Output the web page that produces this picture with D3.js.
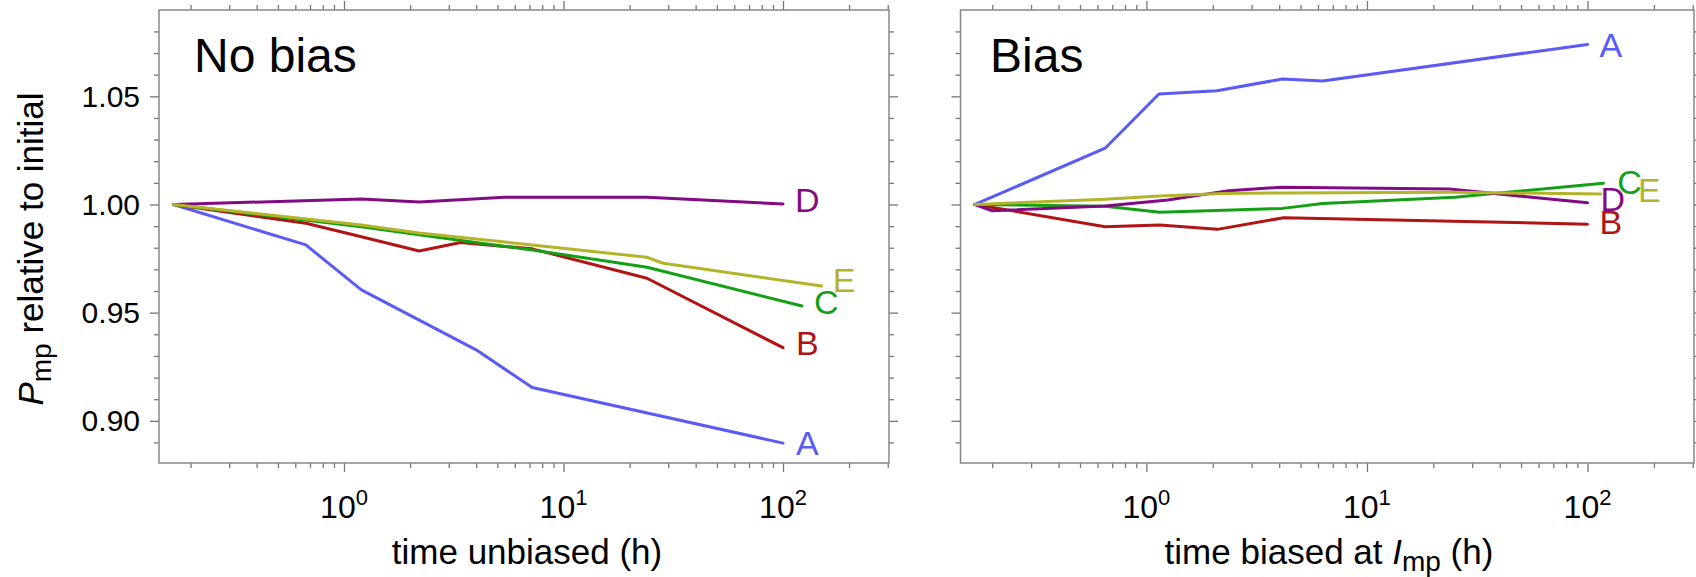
<!DOCTYPE html>
<html>
<head>
<meta charset="utf-8">
<script src="https://cdn.jsdelivr.net/npm/d3@7"></script>
<style>
  body { margin: 0; background: #fff; }
  svg { display: block; font-family: "Liberation Sans", Arial, Helvetica, sans-serif; }
  .frame { fill: none; stroke: #888; stroke-width: 1.5; }
  .tick line { stroke: #777; stroke-width: 1.3; }
  .domain { display: none; }
  .series { fill: none; stroke-width: 3; stroke-linejoin: round; stroke-linecap: round; }
</style>
</head>
<body>
<script>
var seriesNames = ["A", "B", "C", "D", "E"];

// No bias: time unbiased (h) / Pmp relative to initial
var noBiasTimeA = [0.167, 0.67, 1.2, 4.0, 7.2, 100];
var noBiasValA  = [1.000, 0.9813, 0.9605, 0.9328, 0.9154, 0.8897];
var noBiasTimeB = [0.167, 0.67, 1.2, 2.2, 3.4, 7.2, 24, 100];
var noBiasValB  = [1.000, 0.9913, 0.9851, 0.9785, 0.9824, 0.9795, 0.9659, 0.9338];
var noBiasTimeC = [0.167, 1.2, 2.2, 4.3, 7.2, 24, 122];
var noBiasValC  = [1.000, 0.9897, 0.9860, 0.9820, 0.9790, 0.9710, 0.9531];
var noBiasTimeD = [0.167, 1.2, 2.2, 5.4, 24, 100];
var noBiasValD  = [1.000, 1.0025, 1.0012, 1.0033, 1.0033, 1.0002];
var noBiasTimeE = [0.167, 1.2, 2.2, 7.2, 24, 28.5, 150];
var noBiasValE  = [1.000, 0.9905, 0.9868, 0.9813, 0.9756, 0.9728, 0.9623];

// Bias: time biased at Imp (h)
var biasTimeA = [0.167, 0.65, 1.14, 2.09, 4.14, 6.3, 100];
var biasValA  = [1.000, 1.026, 1.0511, 1.0526, 1.058, 1.0571, 1.074];
var biasTimeB = [0.167, 0.65, 1.15, 2.1, 4.2, 100];
var biasValB  = [1.000, 0.9897, 0.9905, 0.9885, 0.9939, 0.9909];
var biasTimeC = [0.167, 0.65, 1.15, 4.14, 6.3, 25, 118];
var biasValC  = [1.000, 0.9992, 0.9964, 0.9982, 1.0005, 1.0033, 1.0098];
var biasTimeD = [0.167, 0.2, 0.65, 1.25, 2.36, 4.14, 23.7, 31.5, 100];
var biasValD  = [1.000, 0.9971, 0.9993, 1.0021, 1.0064, 1.008, 1.0072, 1.0059, 1.0008];
var biasTimeE = [0.167, 0.65, 1.15, 2.2, 4.14, 24, 115];
var biasValE  = [1.000, 1.0024, 1.0039, 1.0051, 1.0053, 1.0056, 1.0049];

var xMajor = [1, 10, 100];
var xMinor = [0.2, 0.3, 0.4, 0.5, 0.6, 0.7, 0.8, 0.9,
              2, 3, 4, 5, 6, 7, 8, 9,
              20, 30, 40, 50, 60, 70, 80, 90, 200, 300];
var yMajor = [0.90, 0.95, 1.00, 1.05];
var yMinor = [0.89, 0.91, 0.92, 0.93, 0.94, 0.96, 0.97, 0.98, 0.99,
              1.01, 1.02, 1.03, 1.04, 1.06, 1.07, 1.08];

var colors = { A: "#5a5af5", B: "#b01414", C: "#14a014", D: "#820a82", E: "#b4b42a" };

function zip(ts, vs) {
  return ts.map(function(t, i) { return { t: t, v: vs[i] }; });
}

var panels = [
  {
    title: "No bias", x0: 159, x1: 889, titleX: 194,
    showY: true,
    xlab: [["time unbiased (h)", null]],
    xlabX: 527,
    series: {
      A: zip(noBiasTimeA, noBiasValA), B: zip(noBiasTimeB, noBiasValB),
      C: zip(noBiasTimeC, noBiasValC), D: zip(noBiasTimeD, noBiasValD),
      E: zip(noBiasTimeE, noBiasValE)
    },
    nudge: { A: [13, 0], B: [13, -5], C: [12, -4], D: [12, -4], E: [11, -6] }
  },
  {
    title: "Bias", x0: 960.5, x1: 1694, titleX: 990,
    showY: false,
    xlab: [["time biased at ", null], ["I", "italic"], ["mp", "sub"], [" (h)", null]],
    xlabX: 1329,
    series: {
      A: zip(biasTimeA, biasValA), B: zip(biasTimeB, biasValB),
      C: zip(biasTimeC, biasValC), D: zip(biasTimeD, biasValD),
      E: zip(biasTimeE, biasValE)
    },
    nudge: { A: [12, 0], B: [12, -2], C: [14, -2], D: [13, -4], E: [37, -4] }
  }
];

var width = 1696,
    height = 577,
    plotTop = 10,
    plotBottom = 463;

var svg = d3.select("body").append("svg")
    .attr("width", width)
    .attr("height", height);

var y = d3.scaleLinear().domain([0.8805, 1.0899]).range([plotBottom, plotTop]);

panels.forEach(function(p) {
  var x = d3.scaleLog().domain([0.1436, 304]).range([p.x0, p.x1]);
  var g = svg.append("g");

  // ticks, all pointing outwards
  function axis(gen, pos, values, size) {
    g.append("g")
        .attr("transform", pos)
        .call(gen.tickValues(values).tickSize(size).tickFormat(""));
  }
  axis(d3.axisBottom(x), "translate(0," + plotBottom + ")", xMinor, 5);
  axis(d3.axisBottom(x), "translate(0," + plotBottom + ")", xMajor, 9);
  axis(d3.axisTop(x), "translate(0," + plotTop + ")", xMinor, 5);
  axis(d3.axisTop(x), "translate(0," + plotTop + ")", xMajor, 9);
  axis(d3.axisLeft(y), "translate(" + p.x0 + ",0)", yMinor, 5);
  axis(d3.axisLeft(y), "translate(" + p.x0 + ",0)", yMajor, 9);
  axis(d3.axisRight(y), "translate(" + p.x1 + ",0)", yMinor, 5);
  axis(d3.axisRight(y), "translate(" + p.x1 + ",0)", yMajor, 9);

  g.append("rect")
      .attr("class", "frame")
      .attr("x", p.x0)
      .attr("y", plotTop)
      .attr("width", p.x1 - p.x0)
      .attr("height", plotBottom - plotTop);

  // x tick labels as 10^n
  xMajor.forEach(function(m) {
    var t = g.append("text")
        .attr("x", x(m))
        .attr("y", 518)
        .attr("text-anchor", "middle")
        .style("font-size", "32px");
    t.append("tspan").text("10");
    t.append("tspan").attr("dy", -13).style("font-size", "22px").text(Math.round(Math.log10(m)));
  });

  if (p.showY) {
    yMajor.forEach(function(v) {
      g.append("text")
          .attr("x", 140)
          .attr("y", y(v))
          .attr("dy", "0.35em")
          .attr("text-anchor", "end")
          .style("font-size", "30px")
          .text(v.toFixed(2));
    });
  }

  // x axis title
  var xt = g.append("text")
      .attr("x", p.xlabX)
      .attr("y", 564)
      .attr("text-anchor", "middle")
      .style("font-size", "35px");
  var shift = 0;
  p.xlab.forEach(function(part) {
    var ts = xt.append("tspan").text(part[0]);
    if (part[1] === "italic") ts.style("font-style", "italic");
    if (part[1] === "sub") { ts.attr("dy", 7).style("font-size", "28px"); shift = 7; }
    else if (shift) { ts.attr("dy", -shift); shift = 0; }
  });

  g.append("text")
      .attr("x", p.titleX)
      .attr("y", 72)
      .style("font-size", "48px")
      .text(p.title);

  var line = d3.line()
      .x(function(d) { return x(d.t); })
      .y(function(d) { return y(d.v); });

  seriesNames.forEach(function(name) {
    var data = p.series[name];
    g.append("path")
        .datum(data)
        .attr("class", "series")
        .attr("stroke", colors[name])
        .attr("d", line);

    var last = data[data.length - 1];
    g.append("text")
        .attr("x", x(last.t) + p.nudge[name][0])
        .attr("y", y(last.v) + p.nudge[name][1])
        .attr("dy", "0.36em")
        .attr("fill", colors[name])
        .style("font-size", "34px")
        .text(name);
  });
});

// y axis title
var yt = svg.append("text")
    .attr("transform", "translate(43,249) rotate(-90)")
    .attr("text-anchor", "middle")
    .style("font-size", "35px");
yt.append("tspan").style("font-style", "italic").text("P");
yt.append("tspan").attr("dy", 8).style("font-size", "28px").text("mp");
yt.append("tspan").attr("dy", -8).text(" relative to initial");
</script>
</body>
</html>
